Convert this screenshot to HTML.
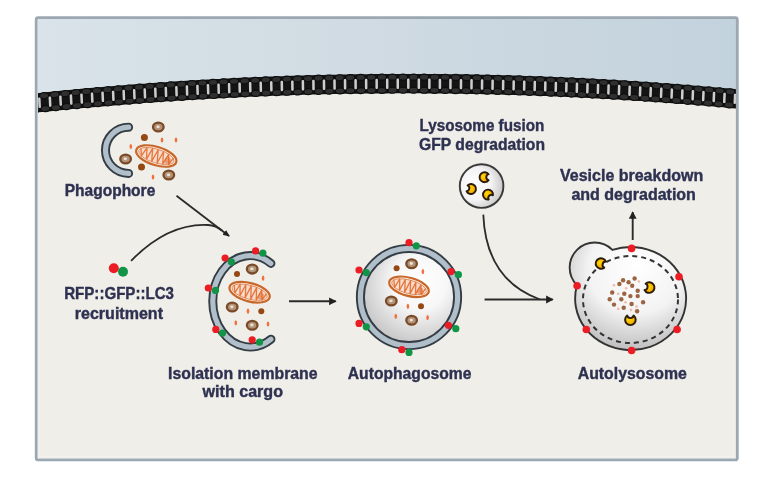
<!DOCTYPE html>
<html><head><meta charset="utf-8"><style>html,body{margin:0;padding:0;background:#fff;width:772px;height:494px;overflow:hidden}svg{display:block;filter:blur(0.4px)}</style></head>
<body><svg width="772" height="494" viewBox="0 0 772 494"><defs>
<linearGradient id="sky" x1="0" y1="0" x2="1" y2="0">
<stop offset="0" stop-color="#d9e3e9"/><stop offset="0.5" stop-color="#cfdae2"/><stop offset="1" stop-color="#c2d2dc"/></linearGradient>
<radialGradient id="vesA" cx="0.6" cy="0.38" r="0.7" fx="0.62" fy="0.33">
<stop offset="0" stop-color="#ffffff"/><stop offset="0.4" stop-color="#f7f7f7"/><stop offset="1" stop-color="#bcbcbc"/></radialGradient>
<radialGradient id="vesL" cx="0.35" cy="0.45" r="0.75">
<stop offset="0" stop-color="#ffffff"/><stop offset="0.5" stop-color="#f3f3f3"/><stop offset="1" stop-color="#b9b9b9"/></radialGradient>
<radialGradient id="vesT" cx="0.56" cy="0.3" r="0.82" fx="0.58" fy="0.2">
<stop offset="0" stop-color="#ffffff"/><stop offset="0.5" stop-color="#f3f3f3"/><stop offset="1" stop-color="#adadad"/></radialGradient>
<radialGradient id="pac" cx="0.4" cy="0.4" r="0.7">
<stop offset="0" stop-color="#ffd800"/><stop offset="0.6" stop-color="#f8b400"/><stop offset="1" stop-color="#d86a10"/></radialGradient>
<clipPath id="frameclip"><rect x="38" y="19" width="698" height="439"/></clipPath>
<marker id="ah" markerWidth="8" markerHeight="8" refX="6" refY="4" orient="auto" markerUnits="userSpaceOnUse">
<path d="M0,1 L7,4 L0,7 Z" fill="#222"/></marker>
<marker id="ah2" markerWidth="9" markerHeight="9" refX="6.5" refY="4.5" orient="auto" markerUnits="userSpaceOnUse">
<path d="M0,0.6 L7.6,4.5 L0,8.4 Z" fill="#222"/></marker>
</defs>
<rect x="0" y="0" width="772" height="494" fill="#ffffff"/>
<g clip-path="url(#frameclip)">
<rect x="35" y="16" width="704" height="445" fill="#efeee9"/>
<rect x="39.6" y="21" width="694.3" height="435.6" fill="none" stroke="#f7f6f0" stroke-width="1.2" opacity="0.5"/>
<polygon points="30,10 30,103.70 35,103.17 40,102.65 45,102.14 50,101.64 55,101.14 60,100.65 65,100.16 70,99.69 75,99.22 80,98.75 85,98.30 90,97.85 95,97.41 100,96.97 105,96.54 110,96.12 115,95.71 120,95.30 125,94.90 130,94.51 135,94.12 140,93.75 145,93.37 150,93.01 155,92.65 160,92.30 165,91.96 170,91.62 175,91.29 180,90.97 185,90.65 190,90.35 195,90.04 200,89.75 205,89.46 210,89.18 215,88.91 220,88.64 225,88.38 230,88.13 235,87.89 240,87.65 245,87.42 250,87.19 255,86.98 260,86.77 265,86.56 270,86.37 275,86.18 280,86.00 285,85.82 290,85.65 295,85.49 300,85.34 305,85.19 310,85.05 315,84.92 320,84.79 325,84.67 330,84.56 335,84.46 340,84.36 345,84.27 350,84.19 355,84.11 360,84.04 365,83.98 370,83.92 375,83.87 380,83.83 385,83.80 390,83.77 395,83.75 400,83.74 405,83.73 410,83.73 415,83.74 420,83.75 425,83.78 430,83.80 435,83.84 440,83.88 445,83.93 450,83.99 455,84.05 460,84.12 465,84.20 470,84.29 475,84.38 480,84.48 485,84.58 490,84.70 495,84.82 500,84.95 505,85.08 510,85.22 515,85.37 520,85.52 525,85.69 530,85.86 535,86.03 540,86.22 545,86.41 550,86.60 555,86.81 560,87.02 565,87.24 570,87.46 575,87.70 580,87.94 585,88.18 590,88.44 595,88.70 600,88.96 605,89.24 610,89.52 615,89.81 620,90.10 625,90.41 630,90.72 635,91.03 640,91.36 645,91.69 650,92.03 655,92.37 660,92.72 665,93.08 670,93.45 675,93.82 680,94.20 685,94.59 690,94.98 695,95.38 700,95.79 705,96.21 710,96.63 715,97.06 720,97.49 725,97.94 730,98.39 735,98.85 740,99.31 745,10" fill="url(#sky)"/>
<polygon points="30,93.90 33,93.58 36,93.27 39,92.96 42,92.65 45,92.34 48,92.04 51,91.74 54,91.44 57,91.14 60,90.85 63,90.56 66,90.27 69,89.98 72,89.70 75,89.42 78,89.14 81,88.86 84,88.59 87,88.32 90,88.05 93,87.78 96,87.52 99,87.26 102,87.00 105,86.74 108,86.49 111,86.24 114,85.99 117,85.75 120,85.50 123,85.26 126,85.02 129,84.79 132,84.56 135,84.32 138,84.10 141,83.87 144,83.65 147,83.43 150,83.21 153,82.99 156,82.78 159,82.57 162,82.36 165,82.16 168,81.96 171,81.76 174,81.56 177,81.36 180,81.17 183,80.98 186,80.79 189,80.61 192,80.42 195,80.24 198,80.07 201,79.89 204,79.72 207,79.55 210,79.38 213,79.22 216,79.06 219,78.90 222,78.74 225,78.58 228,78.43 231,78.28 234,78.14 237,77.99 240,77.85 243,77.71 246,77.57 249,77.44 252,77.31 255,77.18 258,77.05 261,76.92 264,76.80 267,76.68 270,76.57 273,76.45 276,76.34 279,76.23 282,76.13 285,76.02 288,75.92 291,75.82 294,75.72 297,75.63 300,75.54 303,75.45 306,75.36 309,75.28 312,75.20 315,75.12 318,75.04 321,74.97 324,74.90 327,74.83 330,74.76 333,74.70 336,74.64 339,74.58 342,74.52 345,74.47 348,74.42 351,74.37 354,74.32 357,74.28 360,74.24 363,74.20 366,74.17 369,74.13 372,74.10 375,74.07 378,74.05 381,74.02 384,74.00 387,73.99 390,73.97 393,73.96 396,73.95 399,73.94 402,73.93 405,73.93 408,73.93 411,73.93 414,73.94 417,73.94 420,73.95 423,73.97 426,73.98 429,74.00 432,74.02 435,74.04 438,74.07 441,74.09 444,74.12 447,74.15 450,74.19 453,74.23 456,74.27 459,74.31 462,74.36 465,74.40 468,74.45 471,74.51 474,74.56 477,74.62 480,74.68 483,74.74 486,74.81 489,74.87 492,74.95 495,75.02 498,75.09 501,75.17 504,75.25 507,75.34 510,75.42 513,75.51 516,75.60 519,75.69 522,75.79 525,75.89 528,75.99 531,76.09 534,76.20 537,76.30 540,76.42 543,76.53 546,76.64 549,76.76 552,76.88 555,77.01 558,77.13 561,77.26 564,77.39 567,77.53 570,77.66 573,77.80 576,77.94 579,78.09 582,78.23 585,78.38 588,78.53 591,78.69 594,78.84 597,79.00 600,79.16 603,79.33 606,79.49 609,79.66 612,79.83 615,80.01 618,80.19 621,80.36 624,80.55 627,80.73 630,80.92 633,81.11 636,81.30 639,81.49 642,81.69 645,81.89 648,82.09 651,82.29 654,82.50 657,82.71 660,82.92 663,83.14 666,83.35 669,83.57 672,83.80 675,84.02 678,84.25 681,84.48 684,84.71 687,84.95 690,85.18 693,85.42 696,85.66 699,85.91 702,86.16 705,86.41 708,86.66 711,86.91 714,87.17 717,87.43 720,87.69 723,87.96 726,88.23 729,88.50 732,88.77 735,89.05 738,89.32 741,89.60 744,89.89 744,109.29 741,109.00 738,108.72 735,108.45 732,108.17 729,107.90 726,107.63 723,107.36 720,107.09 717,106.83 714,106.57 711,106.31 708,106.06 705,105.81 702,105.56 699,105.31 696,105.06 693,104.82 690,104.58 687,104.35 684,104.11 681,103.88 678,103.65 675,103.42 672,103.20 669,102.97 666,102.75 663,102.54 660,102.32 657,102.11 654,101.90 651,101.69 648,101.49 645,101.29 642,101.09 639,100.89 636,100.70 633,100.51 630,100.32 627,100.13 624,99.95 621,99.76 618,99.59 615,99.41 612,99.23 609,99.06 606,98.89 603,98.73 600,98.56 597,98.40 594,98.24 591,98.09 588,97.93 585,97.78 582,97.63 579,97.49 576,97.34 573,97.20 570,97.06 567,96.93 564,96.79 561,96.66 558,96.53 555,96.41 552,96.28 549,96.16 546,96.04 543,95.93 540,95.82 537,95.70 534,95.60 531,95.49 528,95.39 525,95.29 522,95.19 519,95.09 516,95.00 513,94.91 510,94.82 507,94.73 504,94.65 501,94.57 498,94.49 495,94.42 492,94.35 489,94.27 486,94.21 483,94.14 480,94.08 477,94.02 474,93.96 471,93.91 468,93.85 465,93.80 462,93.76 459,93.71 456,93.67 453,93.63 450,93.59 447,93.55 444,93.52 441,93.49 438,93.47 435,93.44 432,93.42 429,93.40 426,93.38 423,93.37 420,93.35 417,93.34 414,93.34 411,93.33 408,93.33 405,93.33 402,93.33 399,93.34 396,93.35 393,93.36 390,93.37 387,93.39 384,93.40 381,93.42 378,93.45 375,93.47 372,93.50 369,93.53 366,93.57 363,93.60 360,93.64 357,93.68 354,93.72 351,93.77 348,93.82 345,93.87 342,93.92 339,93.98 336,94.04 333,94.10 330,94.16 327,94.23 324,94.30 321,94.37 318,94.44 315,94.52 312,94.60 309,94.68 306,94.76 303,94.85 300,94.94 297,95.03 294,95.12 291,95.22 288,95.32 285,95.42 282,95.53 279,95.63 276,95.74 273,95.85 270,95.97 267,96.08 264,96.20 261,96.32 258,96.45 255,96.58 252,96.71 249,96.84 246,96.97 243,97.11 240,97.25 237,97.39 234,97.54 231,97.68 228,97.83 225,97.98 222,98.14 219,98.30 216,98.46 213,98.62 210,98.78 207,98.95 204,99.12 201,99.29 198,99.47 195,99.64 192,99.82 189,100.01 186,100.19 183,100.38 180,100.57 177,100.76 174,100.96 171,101.16 168,101.36 165,101.56 162,101.76 159,101.97 156,102.18 153,102.39 150,102.61 147,102.83 144,103.05 141,103.27 138,103.50 135,103.72 132,103.96 129,104.19 126,104.42 123,104.66 120,104.90 117,105.15 114,105.39 111,105.64 108,105.89 105,106.14 102,106.40 99,106.66 96,106.92 93,107.18 90,107.45 87,107.72 84,107.99 81,108.26 78,108.54 75,108.82 72,109.10 69,109.38 66,109.67 63,109.96 60,110.25 57,110.54 54,110.84 51,111.14 48,111.44 45,111.74 42,112.05 39,112.36 36,112.67 33,112.98 30,113.30" fill="#141414"/>
<g transform="translate(23.70,104.37) rotate(-6.15)"><ellipse cx="0" cy="-6.6" rx="4.6" ry="3" fill="#2f2f2f" stroke="#0d0d0d" stroke-width="1.2"/><ellipse cx="0" cy="6.5" rx="4.6" ry="3" fill="#2f2f2f" stroke="#0d0d0d" stroke-width="1.2"/></g>
<g transform="translate(18.43,104.94) rotate(-3.12)"><rect x="-1.25" y="-5.2" width="2.5" height="10.4" rx="1" fill="#cdcdcd"/></g>
<g transform="translate(34.23,103.25) rotate(-5.98)"><ellipse cx="0" cy="-6.6" rx="4.6" ry="3" fill="#2f2f2f" stroke="#0d0d0d" stroke-width="1.2"/><ellipse cx="0" cy="6.5" rx="4.6" ry="3" fill="#2f2f2f" stroke="#0d0d0d" stroke-width="1.2"/></g>
<g transform="translate(28.96,103.81) rotate(-3.03)"><rect x="-1.25" y="-5.2" width="2.5" height="10.4" rx="1" fill="#cdcdcd"/></g>
<g transform="translate(44.77,102.17) rotate(-5.81)"><ellipse cx="0" cy="-6.6" rx="4.6" ry="3" fill="#2f2f2f" stroke="#0d0d0d" stroke-width="1.2"/><ellipse cx="0" cy="6.5" rx="4.6" ry="3" fill="#2f2f2f" stroke="#0d0d0d" stroke-width="1.2"/></g>
<g transform="translate(39.50,102.71) rotate(-2.95)"><rect x="-1.25" y="-5.2" width="2.5" height="10.4" rx="1" fill="#cdcdcd"/></g>
<g transform="translate(55.31,101.11) rotate(-5.64)"><ellipse cx="0" cy="-6.6" rx="4.6" ry="3" fill="#2f2f2f" stroke="#0d0d0d" stroke-width="1.2"/><ellipse cx="0" cy="6.5" rx="4.6" ry="3" fill="#2f2f2f" stroke="#0d0d0d" stroke-width="1.2"/></g>
<g transform="translate(50.04,101.63) rotate(-2.86)"><rect x="-1.25" y="-5.2" width="2.5" height="10.4" rx="1" fill="#cdcdcd"/></g>
<g transform="translate(65.84,100.08) rotate(-5.48)"><ellipse cx="0" cy="-6.6" rx="4.6" ry="3" fill="#2f2f2f" stroke="#0d0d0d" stroke-width="1.2"/><ellipse cx="0" cy="6.5" rx="4.6" ry="3" fill="#2f2f2f" stroke="#0d0d0d" stroke-width="1.2"/></g>
<g transform="translate(60.57,100.59) rotate(-2.78)"><rect x="-1.25" y="-5.2" width="2.5" height="10.4" rx="1" fill="#cdcdcd"/></g>
<g transform="translate(76.38,99.09) rotate(-5.31)"><ellipse cx="0" cy="-6.6" rx="4.6" ry="3" fill="#2f2f2f" stroke="#0d0d0d" stroke-width="1.2"/><ellipse cx="0" cy="6.5" rx="4.6" ry="3" fill="#2f2f2f" stroke="#0d0d0d" stroke-width="1.2"/></g>
<g transform="translate(71.11,99.58) rotate(-2.70)"><rect x="-1.25" y="-5.2" width="2.5" height="10.4" rx="1" fill="#cdcdcd"/></g>
<g transform="translate(86.92,98.12) rotate(-5.14)"><ellipse cx="0" cy="-6.6" rx="4.6" ry="3" fill="#2f2f2f" stroke="#0d0d0d" stroke-width="1.2"/><ellipse cx="0" cy="6.5" rx="4.6" ry="3" fill="#2f2f2f" stroke="#0d0d0d" stroke-width="1.2"/></g>
<g transform="translate(81.65,98.60) rotate(-2.61)"><rect x="-1.25" y="-5.2" width="2.5" height="10.4" rx="1" fill="#cdcdcd"/></g>
<g transform="translate(97.46,97.19) rotate(-4.97)"><ellipse cx="0" cy="-6.6" rx="4.6" ry="3" fill="#2f2f2f" stroke="#0d0d0d" stroke-width="1.2"/><ellipse cx="0" cy="6.5" rx="4.6" ry="3" fill="#2f2f2f" stroke="#0d0d0d" stroke-width="1.2"/></g>
<g transform="translate(92.19,97.65) rotate(-2.53)"><rect x="-1.25" y="-5.2" width="2.5" height="10.4" rx="1" fill="#cdcdcd"/></g>
<g transform="translate(107.99,96.29) rotate(-4.80)"><ellipse cx="0" cy="-6.6" rx="4.6" ry="3" fill="#2f2f2f" stroke="#0d0d0d" stroke-width="1.2"/><ellipse cx="0" cy="6.5" rx="4.6" ry="3" fill="#2f2f2f" stroke="#0d0d0d" stroke-width="1.2"/></g>
<g transform="translate(102.72,96.74) rotate(-2.44)"><rect x="-1.25" y="-5.2" width="2.5" height="10.4" rx="1" fill="#cdcdcd"/></g>
<g transform="translate(118.53,95.42) rotate(-4.63)"><ellipse cx="0" cy="-6.6" rx="4.6" ry="3" fill="#2f2f2f" stroke="#0d0d0d" stroke-width="1.2"/><ellipse cx="0" cy="6.5" rx="4.6" ry="3" fill="#2f2f2f" stroke="#0d0d0d" stroke-width="1.2"/></g>
<g transform="translate(113.26,95.85) rotate(-2.36)"><rect x="-1.25" y="-5.2" width="2.5" height="10.4" rx="1" fill="#cdcdcd"/></g>
<g transform="translate(129.07,94.58) rotate(-4.47)"><ellipse cx="0" cy="-6.6" rx="4.6" ry="3" fill="#2f2f2f" stroke="#0d0d0d" stroke-width="1.2"/><ellipse cx="0" cy="6.5" rx="4.6" ry="3" fill="#2f2f2f" stroke="#0d0d0d" stroke-width="1.2"/></g>
<g transform="translate(123.80,95.00) rotate(-2.28)"><rect x="-1.25" y="-5.2" width="2.5" height="10.4" rx="1" fill="#cdcdcd"/></g>
<g transform="translate(139.60,93.78) rotate(-4.30)"><ellipse cx="0" cy="-6.6" rx="4.6" ry="3" fill="#2f2f2f" stroke="#0d0d0d" stroke-width="1.2"/><ellipse cx="0" cy="6.5" rx="4.6" ry="3" fill="#2f2f2f" stroke="#0d0d0d" stroke-width="1.2"/></g>
<g transform="translate(134.33,94.18) rotate(-2.19)"><rect x="-1.25" y="-5.2" width="2.5" height="10.4" rx="1" fill="#cdcdcd"/></g>
<g transform="translate(150.14,93.00) rotate(-4.13)"><ellipse cx="0" cy="-6.6" rx="4.6" ry="3" fill="#2f2f2f" stroke="#0d0d0d" stroke-width="1.2"/><ellipse cx="0" cy="6.5" rx="4.6" ry="3" fill="#2f2f2f" stroke="#0d0d0d" stroke-width="1.2"/></g>
<g transform="translate(144.87,93.38) rotate(-2.11)"><rect x="-1.25" y="-5.2" width="2.5" height="10.4" rx="1" fill="#cdcdcd"/></g>
<g transform="translate(160.68,92.25) rotate(-3.96)"><ellipse cx="0" cy="-6.6" rx="4.6" ry="3" fill="#2f2f2f" stroke="#0d0d0d" stroke-width="1.2"/><ellipse cx="0" cy="6.5" rx="4.6" ry="3" fill="#2f2f2f" stroke="#0d0d0d" stroke-width="1.2"/></g>
<g transform="translate(155.41,92.62) rotate(-2.02)"><rect x="-1.25" y="-5.2" width="2.5" height="10.4" rx="1" fill="#cdcdcd"/></g>
<g transform="translate(171.21,91.54) rotate(-3.79)"><ellipse cx="0" cy="-6.6" rx="4.6" ry="3" fill="#2f2f2f" stroke="#0d0d0d" stroke-width="1.2"/><ellipse cx="0" cy="6.5" rx="4.6" ry="3" fill="#2f2f2f" stroke="#0d0d0d" stroke-width="1.2"/></g>
<g transform="translate(165.94,91.89) rotate(-1.94)"><rect x="-1.25" y="-5.2" width="2.5" height="10.4" rx="1" fill="#cdcdcd"/></g>
<g transform="translate(181.75,90.86) rotate(-3.62)"><ellipse cx="0" cy="-6.6" rx="4.6" ry="3" fill="#2f2f2f" stroke="#0d0d0d" stroke-width="1.2"/><ellipse cx="0" cy="6.5" rx="4.6" ry="3" fill="#2f2f2f" stroke="#0d0d0d" stroke-width="1.2"/></g>
<g transform="translate(176.48,91.20) rotate(-1.85)"><rect x="-1.25" y="-5.2" width="2.5" height="10.4" rx="1" fill="#cdcdcd"/></g>
<g transform="translate(192.29,90.21) rotate(-3.45)"><ellipse cx="0" cy="-6.6" rx="4.6" ry="3" fill="#2f2f2f" stroke="#0d0d0d" stroke-width="1.2"/><ellipse cx="0" cy="6.5" rx="4.6" ry="3" fill="#2f2f2f" stroke="#0d0d0d" stroke-width="1.2"/></g>
<g transform="translate(187.02,90.53) rotate(-1.77)"><rect x="-1.25" y="-5.2" width="2.5" height="10.4" rx="1" fill="#cdcdcd"/></g>
<g transform="translate(202.83,89.59) rotate(-3.28)"><ellipse cx="0" cy="-6.6" rx="4.6" ry="3" fill="#2f2f2f" stroke="#0d0d0d" stroke-width="1.2"/><ellipse cx="0" cy="6.5" rx="4.6" ry="3" fill="#2f2f2f" stroke="#0d0d0d" stroke-width="1.2"/></g>
<g transform="translate(197.56,89.89) rotate(-1.68)"><rect x="-1.25" y="-5.2" width="2.5" height="10.4" rx="1" fill="#cdcdcd"/></g>
<g transform="translate(213.36,89.00) rotate(-3.11)"><ellipse cx="0" cy="-6.6" rx="4.6" ry="3" fill="#2f2f2f" stroke="#0d0d0d" stroke-width="1.2"/><ellipse cx="0" cy="6.5" rx="4.6" ry="3" fill="#2f2f2f" stroke="#0d0d0d" stroke-width="1.2"/></g>
<g transform="translate(208.09,89.29) rotate(-1.60)"><rect x="-1.25" y="-5.2" width="2.5" height="10.4" rx="1" fill="#cdcdcd"/></g>
<g transform="translate(223.90,88.44) rotate(-2.95)"><ellipse cx="0" cy="-6.6" rx="4.6" ry="3" fill="#2f2f2f" stroke="#0d0d0d" stroke-width="1.2"/><ellipse cx="0" cy="6.5" rx="4.6" ry="3" fill="#2f2f2f" stroke="#0d0d0d" stroke-width="1.2"/></g>
<g transform="translate(218.63,88.72) rotate(-1.51)"><rect x="-1.25" y="-5.2" width="2.5" height="10.4" rx="1" fill="#cdcdcd"/></g>
<g transform="translate(234.44,87.91) rotate(-2.78)"><ellipse cx="0" cy="-6.6" rx="4.6" ry="3" fill="#2f2f2f" stroke="#0d0d0d" stroke-width="1.2"/><ellipse cx="0" cy="6.5" rx="4.6" ry="3" fill="#2f2f2f" stroke="#0d0d0d" stroke-width="1.2"/></g>
<g transform="translate(229.17,88.17) rotate(-1.43)"><rect x="-1.25" y="-5.2" width="2.5" height="10.4" rx="1" fill="#cdcdcd"/></g>
<g transform="translate(244.97,87.42) rotate(-2.61)"><ellipse cx="0" cy="-6.6" rx="4.6" ry="3" fill="#2f2f2f" stroke="#0d0d0d" stroke-width="1.2"/><ellipse cx="0" cy="6.5" rx="4.6" ry="3" fill="#2f2f2f" stroke="#0d0d0d" stroke-width="1.2"/></g>
<g transform="translate(239.70,87.66) rotate(-1.35)"><rect x="-1.25" y="-5.2" width="2.5" height="10.4" rx="1" fill="#cdcdcd"/></g>
<g transform="translate(255.51,86.95) rotate(-2.44)"><ellipse cx="0" cy="-6.6" rx="4.6" ry="3" fill="#2f2f2f" stroke="#0d0d0d" stroke-width="1.2"/><ellipse cx="0" cy="6.5" rx="4.6" ry="3" fill="#2f2f2f" stroke="#0d0d0d" stroke-width="1.2"/></g>
<g transform="translate(250.24,87.18) rotate(-1.26)"><rect x="-1.25" y="-5.2" width="2.5" height="10.4" rx="1" fill="#cdcdcd"/></g>
<g transform="translate(266.05,86.52) rotate(-2.27)"><ellipse cx="0" cy="-6.6" rx="4.6" ry="3" fill="#2f2f2f" stroke="#0d0d0d" stroke-width="1.2"/><ellipse cx="0" cy="6.5" rx="4.6" ry="3" fill="#2f2f2f" stroke="#0d0d0d" stroke-width="1.2"/></g>
<g transform="translate(260.78,86.73) rotate(-1.18)"><rect x="-1.25" y="-5.2" width="2.5" height="10.4" rx="1" fill="#cdcdcd"/></g>
<g transform="translate(276.58,86.12) rotate(-2.10)"><ellipse cx="0" cy="-6.6" rx="4.6" ry="3" fill="#2f2f2f" stroke="#0d0d0d" stroke-width="1.2"/><ellipse cx="0" cy="6.5" rx="4.6" ry="3" fill="#2f2f2f" stroke="#0d0d0d" stroke-width="1.2"/></g>
<g transform="translate(271.31,86.32) rotate(-1.09)"><rect x="-1.25" y="-5.2" width="2.5" height="10.4" rx="1" fill="#cdcdcd"/></g>
<g transform="translate(287.12,85.75) rotate(-1.93)"><ellipse cx="0" cy="-6.6" rx="4.6" ry="3" fill="#2f2f2f" stroke="#0d0d0d" stroke-width="1.2"/><ellipse cx="0" cy="6.5" rx="4.6" ry="3" fill="#2f2f2f" stroke="#0d0d0d" stroke-width="1.2"/></g>
<g transform="translate(281.85,85.93) rotate(-1.01)"><rect x="-1.25" y="-5.2" width="2.5" height="10.4" rx="1" fill="#cdcdcd"/></g>
<g transform="translate(297.66,85.41) rotate(-1.76)"><ellipse cx="0" cy="-6.6" rx="4.6" ry="3" fill="#2f2f2f" stroke="#0d0d0d" stroke-width="1.2"/><ellipse cx="0" cy="6.5" rx="4.6" ry="3" fill="#2f2f2f" stroke="#0d0d0d" stroke-width="1.2"/></g>
<g transform="translate(292.39,85.58) rotate(-0.92)"><rect x="-1.25" y="-5.2" width="2.5" height="10.4" rx="1" fill="#cdcdcd"/></g>
<g transform="translate(308.19,85.10) rotate(-1.59)"><ellipse cx="0" cy="-6.6" rx="4.6" ry="3" fill="#2f2f2f" stroke="#0d0d0d" stroke-width="1.2"/><ellipse cx="0" cy="6.5" rx="4.6" ry="3" fill="#2f2f2f" stroke="#0d0d0d" stroke-width="1.2"/></g>
<g transform="translate(302.93,85.25) rotate(-0.84)"><rect x="-1.25" y="-5.2" width="2.5" height="10.4" rx="1" fill="#cdcdcd"/></g>
<g transform="translate(318.73,84.82) rotate(-1.42)"><ellipse cx="0" cy="-6.6" rx="4.6" ry="3" fill="#2f2f2f" stroke="#0d0d0d" stroke-width="1.2"/><ellipse cx="0" cy="6.5" rx="4.6" ry="3" fill="#2f2f2f" stroke="#0d0d0d" stroke-width="1.2"/></g>
<g transform="translate(313.46,84.96) rotate(-0.75)"><rect x="-1.25" y="-5.2" width="2.5" height="10.4" rx="1" fill="#cdcdcd"/></g>
<g transform="translate(329.27,84.58) rotate(-1.25)"><ellipse cx="0" cy="-6.6" rx="4.6" ry="3" fill="#2f2f2f" stroke="#0d0d0d" stroke-width="1.2"/><ellipse cx="0" cy="6.5" rx="4.6" ry="3" fill="#2f2f2f" stroke="#0d0d0d" stroke-width="1.2"/></g>
<g transform="translate(324.00,84.70) rotate(-0.67)"><rect x="-1.25" y="-5.2" width="2.5" height="10.4" rx="1" fill="#cdcdcd"/></g>
<g transform="translate(339.81,84.36) rotate(-1.08)"><ellipse cx="0" cy="-6.6" rx="4.6" ry="3" fill="#2f2f2f" stroke="#0d0d0d" stroke-width="1.2"/><ellipse cx="0" cy="6.5" rx="4.6" ry="3" fill="#2f2f2f" stroke="#0d0d0d" stroke-width="1.2"/></g>
<g transform="translate(334.54,84.47) rotate(-0.58)"><rect x="-1.25" y="-5.2" width="2.5" height="10.4" rx="1" fill="#cdcdcd"/></g>
<g transform="translate(350.34,84.18) rotate(-0.91)"><ellipse cx="0" cy="-6.6" rx="4.6" ry="3" fill="#2f2f2f" stroke="#0d0d0d" stroke-width="1.2"/><ellipse cx="0" cy="6.5" rx="4.6" ry="3" fill="#2f2f2f" stroke="#0d0d0d" stroke-width="1.2"/></g>
<g transform="translate(345.07,84.27) rotate(-0.50)"><rect x="-1.25" y="-5.2" width="2.5" height="10.4" rx="1" fill="#cdcdcd"/></g>
<g transform="translate(360.88,84.03) rotate(-0.74)"><ellipse cx="0" cy="-6.6" rx="4.6" ry="3" fill="#2f2f2f" stroke="#0d0d0d" stroke-width="1.2"/><ellipse cx="0" cy="6.5" rx="4.6" ry="3" fill="#2f2f2f" stroke="#0d0d0d" stroke-width="1.2"/></g>
<g transform="translate(355.61,84.10) rotate(-0.41)"><rect x="-1.25" y="-5.2" width="2.5" height="10.4" rx="1" fill="#cdcdcd"/></g>
<g transform="translate(371.42,83.91) rotate(-0.57)"><ellipse cx="0" cy="-6.6" rx="4.6" ry="3" fill="#2f2f2f" stroke="#0d0d0d" stroke-width="1.2"/><ellipse cx="0" cy="6.5" rx="4.6" ry="3" fill="#2f2f2f" stroke="#0d0d0d" stroke-width="1.2"/></g>
<g transform="translate(366.15,83.96) rotate(-0.33)"><rect x="-1.25" y="-5.2" width="2.5" height="10.4" rx="1" fill="#cdcdcd"/></g>
<g transform="translate(381.95,83.82) rotate(-0.40)"><ellipse cx="0" cy="-6.6" rx="4.6" ry="3" fill="#2f2f2f" stroke="#0d0d0d" stroke-width="1.2"/><ellipse cx="0" cy="6.5" rx="4.6" ry="3" fill="#2f2f2f" stroke="#0d0d0d" stroke-width="1.2"/></g>
<g transform="translate(376.68,83.86) rotate(-0.24)"><rect x="-1.25" y="-5.2" width="2.5" height="10.4" rx="1" fill="#cdcdcd"/></g>
<g transform="translate(392.49,83.76) rotate(-0.23)"><ellipse cx="0" cy="-6.6" rx="4.6" ry="3" fill="#2f2f2f" stroke="#0d0d0d" stroke-width="1.2"/><ellipse cx="0" cy="6.5" rx="4.6" ry="3" fill="#2f2f2f" stroke="#0d0d0d" stroke-width="1.2"/></g>
<g transform="translate(387.22,83.78) rotate(-0.16)"><rect x="-1.25" y="-5.2" width="2.5" height="10.4" rx="1" fill="#cdcdcd"/></g>
<g transform="translate(403.03,83.73) rotate(-0.06)"><ellipse cx="0" cy="-6.6" rx="4.6" ry="3" fill="#2f2f2f" stroke="#0d0d0d" stroke-width="1.2"/><ellipse cx="0" cy="6.5" rx="4.6" ry="3" fill="#2f2f2f" stroke="#0d0d0d" stroke-width="1.2"/></g>
<g transform="translate(397.76,83.74) rotate(-0.07)"><rect x="-1.25" y="-5.2" width="2.5" height="10.4" rx="1" fill="#cdcdcd"/></g>
<g transform="translate(413.56,83.74) rotate(0.11)"><ellipse cx="0" cy="-6.6" rx="4.6" ry="3" fill="#2f2f2f" stroke="#0d0d0d" stroke-width="1.2"/><ellipse cx="0" cy="6.5" rx="4.6" ry="3" fill="#2f2f2f" stroke="#0d0d0d" stroke-width="1.2"/></g>
<g transform="translate(408.29,83.73) rotate(0.01)"><rect x="-1.25" y="-5.2" width="2.5" height="10.4" rx="1" fill="#cdcdcd"/></g>
<g transform="translate(424.10,83.77) rotate(0.28)"><ellipse cx="0" cy="-6.6" rx="4.6" ry="3" fill="#2f2f2f" stroke="#0d0d0d" stroke-width="1.2"/><ellipse cx="0" cy="6.5" rx="4.6" ry="3" fill="#2f2f2f" stroke="#0d0d0d" stroke-width="1.2"/></g>
<g transform="translate(418.83,83.75) rotate(0.10)"><rect x="-1.25" y="-5.2" width="2.5" height="10.4" rx="1" fill="#cdcdcd"/></g>
<g transform="translate(434.64,83.84) rotate(0.44)"><ellipse cx="0" cy="-6.6" rx="4.6" ry="3" fill="#2f2f2f" stroke="#0d0d0d" stroke-width="1.2"/><ellipse cx="0" cy="6.5" rx="4.6" ry="3" fill="#2f2f2f" stroke="#0d0d0d" stroke-width="1.2"/></g>
<g transform="translate(429.37,83.80) rotate(0.18)"><rect x="-1.25" y="-5.2" width="2.5" height="10.4" rx="1" fill="#cdcdcd"/></g>
<g transform="translate(445.18,83.93) rotate(0.61)"><ellipse cx="0" cy="-6.6" rx="4.6" ry="3" fill="#2f2f2f" stroke="#0d0d0d" stroke-width="1.2"/><ellipse cx="0" cy="6.5" rx="4.6" ry="3" fill="#2f2f2f" stroke="#0d0d0d" stroke-width="1.2"/></g>
<g transform="translate(439.91,83.88) rotate(0.26)"><rect x="-1.25" y="-5.2" width="2.5" height="10.4" rx="1" fill="#cdcdcd"/></g>
<g transform="translate(455.71,84.06) rotate(0.78)"><ellipse cx="0" cy="-6.6" rx="4.6" ry="3" fill="#2f2f2f" stroke="#0d0d0d" stroke-width="1.2"/><ellipse cx="0" cy="6.5" rx="4.6" ry="3" fill="#2f2f2f" stroke="#0d0d0d" stroke-width="1.2"/></g>
<g transform="translate(450.44,84.00) rotate(0.35)"><rect x="-1.25" y="-5.2" width="2.5" height="10.4" rx="1" fill="#cdcdcd"/></g>
<g transform="translate(466.25,84.22) rotate(0.95)"><ellipse cx="0" cy="-6.6" rx="4.6" ry="3" fill="#2f2f2f" stroke="#0d0d0d" stroke-width="1.2"/><ellipse cx="0" cy="6.5" rx="4.6" ry="3" fill="#2f2f2f" stroke="#0d0d0d" stroke-width="1.2"/></g>
<g transform="translate(460.98,84.14) rotate(0.43)"><rect x="-1.25" y="-5.2" width="2.5" height="10.4" rx="1" fill="#cdcdcd"/></g>
<g transform="translate(476.79,84.41) rotate(1.12)"><ellipse cx="0" cy="-6.6" rx="4.6" ry="3" fill="#2f2f2f" stroke="#0d0d0d" stroke-width="1.2"/><ellipse cx="0" cy="6.5" rx="4.6" ry="3" fill="#2f2f2f" stroke="#0d0d0d" stroke-width="1.2"/></g>
<g transform="translate(471.52,84.31) rotate(0.52)"><rect x="-1.25" y="-5.2" width="2.5" height="10.4" rx="1" fill="#cdcdcd"/></g>
<g transform="translate(487.32,84.64) rotate(1.29)"><ellipse cx="0" cy="-6.6" rx="4.6" ry="3" fill="#2f2f2f" stroke="#0d0d0d" stroke-width="1.2"/><ellipse cx="0" cy="6.5" rx="4.6" ry="3" fill="#2f2f2f" stroke="#0d0d0d" stroke-width="1.2"/></g>
<g transform="translate(482.05,84.52) rotate(0.60)"><rect x="-1.25" y="-5.2" width="2.5" height="10.4" rx="1" fill="#cdcdcd"/></g>
<g transform="translate(497.86,84.89) rotate(1.46)"><ellipse cx="0" cy="-6.6" rx="4.6" ry="3" fill="#2f2f2f" stroke="#0d0d0d" stroke-width="1.2"/><ellipse cx="0" cy="6.5" rx="4.6" ry="3" fill="#2f2f2f" stroke="#0d0d0d" stroke-width="1.2"/></g>
<g transform="translate(492.59,84.76) rotate(0.69)"><rect x="-1.25" y="-5.2" width="2.5" height="10.4" rx="1" fill="#cdcdcd"/></g>
<g transform="translate(508.40,85.17) rotate(1.63)"><ellipse cx="0" cy="-6.6" rx="4.6" ry="3" fill="#2f2f2f" stroke="#0d0d0d" stroke-width="1.2"/><ellipse cx="0" cy="6.5" rx="4.6" ry="3" fill="#2f2f2f" stroke="#0d0d0d" stroke-width="1.2"/></g>
<g transform="translate(503.13,85.03) rotate(0.77)"><rect x="-1.25" y="-5.2" width="2.5" height="10.4" rx="1" fill="#cdcdcd"/></g>
<g transform="translate(518.93,85.49) rotate(1.80)"><ellipse cx="0" cy="-6.6" rx="4.6" ry="3" fill="#2f2f2f" stroke="#0d0d0d" stroke-width="1.2"/><ellipse cx="0" cy="6.5" rx="4.6" ry="3" fill="#2f2f2f" stroke="#0d0d0d" stroke-width="1.2"/></g>
<g transform="translate(513.66,85.33) rotate(0.86)"><rect x="-1.25" y="-5.2" width="2.5" height="10.4" rx="1" fill="#cdcdcd"/></g>
<g transform="translate(529.47,85.84) rotate(1.97)"><ellipse cx="0" cy="-6.6" rx="4.6" ry="3" fill="#2f2f2f" stroke="#0d0d0d" stroke-width="1.2"/><ellipse cx="0" cy="6.5" rx="4.6" ry="3" fill="#2f2f2f" stroke="#0d0d0d" stroke-width="1.2"/></g>
<g transform="translate(524.20,85.66) rotate(0.94)"><rect x="-1.25" y="-5.2" width="2.5" height="10.4" rx="1" fill="#cdcdcd"/></g>
<g transform="translate(540.01,86.22) rotate(2.14)"><ellipse cx="0" cy="-6.6" rx="4.6" ry="3" fill="#2f2f2f" stroke="#0d0d0d" stroke-width="1.2"/><ellipse cx="0" cy="6.5" rx="4.6" ry="3" fill="#2f2f2f" stroke="#0d0d0d" stroke-width="1.2"/></g>
<g transform="translate(534.74,86.02) rotate(1.03)"><rect x="-1.25" y="-5.2" width="2.5" height="10.4" rx="1" fill="#cdcdcd"/></g>
<g transform="translate(550.55,86.63) rotate(2.31)"><ellipse cx="0" cy="-6.6" rx="4.6" ry="3" fill="#2f2f2f" stroke="#0d0d0d" stroke-width="1.2"/><ellipse cx="0" cy="6.5" rx="4.6" ry="3" fill="#2f2f2f" stroke="#0d0d0d" stroke-width="1.2"/></g>
<g transform="translate(545.28,86.42) rotate(1.11)"><rect x="-1.25" y="-5.2" width="2.5" height="10.4" rx="1" fill="#cdcdcd"/></g>
<g transform="translate(561.08,87.07) rotate(2.48)"><ellipse cx="0" cy="-6.6" rx="4.6" ry="3" fill="#2f2f2f" stroke="#0d0d0d" stroke-width="1.2"/><ellipse cx="0" cy="6.5" rx="4.6" ry="3" fill="#2f2f2f" stroke="#0d0d0d" stroke-width="1.2"/></g>
<g transform="translate(555.81,86.84) rotate(1.20)"><rect x="-1.25" y="-5.2" width="2.5" height="10.4" rx="1" fill="#cdcdcd"/></g>
<g transform="translate(571.62,87.54) rotate(2.65)"><ellipse cx="0" cy="-6.6" rx="4.6" ry="3" fill="#2f2f2f" stroke="#0d0d0d" stroke-width="1.2"/><ellipse cx="0" cy="6.5" rx="4.6" ry="3" fill="#2f2f2f" stroke="#0d0d0d" stroke-width="1.2"/></g>
<g transform="translate(566.35,87.30) rotate(1.28)"><rect x="-1.25" y="-5.2" width="2.5" height="10.4" rx="1" fill="#cdcdcd"/></g>
<g transform="translate(582.16,88.04) rotate(2.82)"><ellipse cx="0" cy="-6.6" rx="4.6" ry="3" fill="#2f2f2f" stroke="#0d0d0d" stroke-width="1.2"/><ellipse cx="0" cy="6.5" rx="4.6" ry="3" fill="#2f2f2f" stroke="#0d0d0d" stroke-width="1.2"/></g>
<g transform="translate(576.89,87.79) rotate(1.37)"><rect x="-1.25" y="-5.2" width="2.5" height="10.4" rx="1" fill="#cdcdcd"/></g>
<g transform="translate(592.69,88.57) rotate(2.99)"><ellipse cx="0" cy="-6.6" rx="4.6" ry="3" fill="#2f2f2f" stroke="#0d0d0d" stroke-width="1.2"/><ellipse cx="0" cy="6.5" rx="4.6" ry="3" fill="#2f2f2f" stroke="#0d0d0d" stroke-width="1.2"/></g>
<g transform="translate(587.42,88.30) rotate(1.45)"><rect x="-1.25" y="-5.2" width="2.5" height="10.4" rx="1" fill="#cdcdcd"/></g>
<g transform="translate(603.23,89.14) rotate(3.16)"><ellipse cx="0" cy="-6.6" rx="4.6" ry="3" fill="#2f2f2f" stroke="#0d0d0d" stroke-width="1.2"/><ellipse cx="0" cy="6.5" rx="4.6" ry="3" fill="#2f2f2f" stroke="#0d0d0d" stroke-width="1.2"/></g>
<g transform="translate(597.96,88.85) rotate(1.54)"><rect x="-1.25" y="-5.2" width="2.5" height="10.4" rx="1" fill="#cdcdcd"/></g>
<g transform="translate(613.77,89.74) rotate(3.33)"><ellipse cx="0" cy="-6.6" rx="4.6" ry="3" fill="#2f2f2f" stroke="#0d0d0d" stroke-width="1.2"/><ellipse cx="0" cy="6.5" rx="4.6" ry="3" fill="#2f2f2f" stroke="#0d0d0d" stroke-width="1.2"/></g>
<g transform="translate(608.50,89.43) rotate(1.62)"><rect x="-1.25" y="-5.2" width="2.5" height="10.4" rx="1" fill="#cdcdcd"/></g>
<g transform="translate(624.30,90.36) rotate(3.49)"><ellipse cx="0" cy="-6.6" rx="4.6" ry="3" fill="#2f2f2f" stroke="#0d0d0d" stroke-width="1.2"/><ellipse cx="0" cy="6.5" rx="4.6" ry="3" fill="#2f2f2f" stroke="#0d0d0d" stroke-width="1.2"/></g>
<g transform="translate(619.03,90.05) rotate(1.70)"><rect x="-1.25" y="-5.2" width="2.5" height="10.4" rx="1" fill="#cdcdcd"/></g>
<g transform="translate(634.84,91.02) rotate(3.66)"><ellipse cx="0" cy="-6.6" rx="4.6" ry="3" fill="#2f2f2f" stroke="#0d0d0d" stroke-width="1.2"/><ellipse cx="0" cy="6.5" rx="4.6" ry="3" fill="#2f2f2f" stroke="#0d0d0d" stroke-width="1.2"/></g>
<g transform="translate(629.57,90.69) rotate(1.79)"><rect x="-1.25" y="-5.2" width="2.5" height="10.4" rx="1" fill="#cdcdcd"/></g>
<g transform="translate(645.38,91.71) rotate(3.83)"><ellipse cx="0" cy="-6.6" rx="4.6" ry="3" fill="#2f2f2f" stroke="#0d0d0d" stroke-width="1.2"/><ellipse cx="0" cy="6.5" rx="4.6" ry="3" fill="#2f2f2f" stroke="#0d0d0d" stroke-width="1.2"/></g>
<g transform="translate(640.11,91.36) rotate(1.87)"><rect x="-1.25" y="-5.2" width="2.5" height="10.4" rx="1" fill="#cdcdcd"/></g>
<g transform="translate(655.92,92.44) rotate(4.00)"><ellipse cx="0" cy="-6.6" rx="4.6" ry="3" fill="#2f2f2f" stroke="#0d0d0d" stroke-width="1.2"/><ellipse cx="0" cy="6.5" rx="4.6" ry="3" fill="#2f2f2f" stroke="#0d0d0d" stroke-width="1.2"/></g>
<g transform="translate(650.65,92.07) rotate(1.96)"><rect x="-1.25" y="-5.2" width="2.5" height="10.4" rx="1" fill="#cdcdcd"/></g>
<g transform="translate(666.45,93.19) rotate(4.17)"><ellipse cx="0" cy="-6.6" rx="4.6" ry="3" fill="#2f2f2f" stroke="#0d0d0d" stroke-width="1.2"/><ellipse cx="0" cy="6.5" rx="4.6" ry="3" fill="#2f2f2f" stroke="#0d0d0d" stroke-width="1.2"/></g>
<g transform="translate(661.18,92.81) rotate(2.04)"><rect x="-1.25" y="-5.2" width="2.5" height="10.4" rx="1" fill="#cdcdcd"/></g>
<g transform="translate(676.99,93.97) rotate(4.34)"><ellipse cx="0" cy="-6.6" rx="4.6" ry="3" fill="#2f2f2f" stroke="#0d0d0d" stroke-width="1.2"/><ellipse cx="0" cy="6.5" rx="4.6" ry="3" fill="#2f2f2f" stroke="#0d0d0d" stroke-width="1.2"/></g>
<g transform="translate(671.72,93.58) rotate(2.13)"><rect x="-1.25" y="-5.2" width="2.5" height="10.4" rx="1" fill="#cdcdcd"/></g>
<g transform="translate(687.53,94.79) rotate(4.51)"><ellipse cx="0" cy="-6.6" rx="4.6" ry="3" fill="#2f2f2f" stroke="#0d0d0d" stroke-width="1.2"/><ellipse cx="0" cy="6.5" rx="4.6" ry="3" fill="#2f2f2f" stroke="#0d0d0d" stroke-width="1.2"/></g>
<g transform="translate(682.26,94.38) rotate(2.21)"><rect x="-1.25" y="-5.2" width="2.5" height="10.4" rx="1" fill="#cdcdcd"/></g>
<g transform="translate(698.06,95.63) rotate(4.68)"><ellipse cx="0" cy="-6.6" rx="4.6" ry="3" fill="#2f2f2f" stroke="#0d0d0d" stroke-width="1.2"/><ellipse cx="0" cy="6.5" rx="4.6" ry="3" fill="#2f2f2f" stroke="#0d0d0d" stroke-width="1.2"/></g>
<g transform="translate(692.79,95.21) rotate(2.30)"><rect x="-1.25" y="-5.2" width="2.5" height="10.4" rx="1" fill="#cdcdcd"/></g>
<g transform="translate(708.60,96.51) rotate(4.84)"><ellipse cx="0" cy="-6.6" rx="4.6" ry="3" fill="#2f2f2f" stroke="#0d0d0d" stroke-width="1.2"/><ellipse cx="0" cy="6.5" rx="4.6" ry="3" fill="#2f2f2f" stroke="#0d0d0d" stroke-width="1.2"/></g>
<g transform="translate(703.33,96.07) rotate(2.38)"><rect x="-1.25" y="-5.2" width="2.5" height="10.4" rx="1" fill="#cdcdcd"/></g>
<g transform="translate(719.14,97.42) rotate(5.01)"><ellipse cx="0" cy="-6.6" rx="4.6" ry="3" fill="#2f2f2f" stroke="#0d0d0d" stroke-width="1.2"/><ellipse cx="0" cy="6.5" rx="4.6" ry="3" fill="#2f2f2f" stroke="#0d0d0d" stroke-width="1.2"/></g>
<g transform="translate(713.87,96.96) rotate(2.46)"><rect x="-1.25" y="-5.2" width="2.5" height="10.4" rx="1" fill="#cdcdcd"/></g>
<g transform="translate(729.68,98.36) rotate(5.18)"><ellipse cx="0" cy="-6.6" rx="4.6" ry="3" fill="#2f2f2f" stroke="#0d0d0d" stroke-width="1.2"/><ellipse cx="0" cy="6.5" rx="4.6" ry="3" fill="#2f2f2f" stroke="#0d0d0d" stroke-width="1.2"/></g>
<g transform="translate(724.41,97.88) rotate(2.55)"><rect x="-1.25" y="-5.2" width="2.5" height="10.4" rx="1" fill="#cdcdcd"/></g>
<g transform="translate(740.21,99.33) rotate(5.35)"><ellipse cx="0" cy="-6.6" rx="4.6" ry="3" fill="#2f2f2f" stroke="#0d0d0d" stroke-width="1.2"/><ellipse cx="0" cy="6.5" rx="4.6" ry="3" fill="#2f2f2f" stroke="#0d0d0d" stroke-width="1.2"/></g>
<g transform="translate(734.94,98.84) rotate(2.63)"><rect x="-1.25" y="-5.2" width="2.5" height="10.4" rx="1" fill="#cdcdcd"/></g>
</g>
<rect x="36.2" y="17.7" width="701.1" height="442.2" rx="2" fill="none" stroke="#9ba7b1" stroke-width="2.8"/>
<circle cx="113.8" cy="268.2" r="5" fill="#ec1c24"/>
<circle cx="123" cy="271.8" r="5" fill="#109445"/>
<path d="M128.6,127.2 A23.1,23.1 0 1 0 128.6,173.4" fill="none" stroke="#343c44" stroke-width="9" stroke-linecap="round"/>
<path d="M128.6,127.2 A23.1,23.1 0 1 0 128.6,173.4" fill="none" stroke="#b0bfca" stroke-width="5.2" stroke-linecap="round"/>
<ellipse cx="158.3" cy="127" rx="5.3" ry="4.4" fill="#b39478" stroke="#7a4a28" stroke-width="2.3"/><ellipse cx="158.0" cy="126.8" rx="1.7" ry="1.4" fill="#ece2d8"/>
<ellipse cx="125.6" cy="159" rx="5.3" ry="4.4" fill="#b39478" stroke="#7a4a28" stroke-width="2.3"/><ellipse cx="125.3" cy="158.8" rx="1.7" ry="1.4" fill="#ece2d8"/>
<ellipse cx="168.8" cy="175" rx="5.3" ry="4.4" fill="#b39478" stroke="#7a4a28" stroke-width="2.3"/><ellipse cx="168.5" cy="174.8" rx="1.7" ry="1.4" fill="#ece2d8"/>
<circle cx="144.4" cy="137.5" r="3.5" fill="#964812"/>
<circle cx="141.5" cy="167" r="3.5" fill="#964812"/>
<ellipse cx="162" cy="140" rx="1.3" ry="2.6" fill="#f2703e"/>
<ellipse cx="176" cy="140" rx="1.3" ry="2.6" fill="#f2703e"/>
<ellipse cx="130.8" cy="146.5" rx="1.3" ry="2.6" fill="#f2703e"/>
<ellipse cx="153" cy="177" rx="1.3" ry="2.6" fill="#f2703e"/>
<g transform="translate(156.3,156) rotate(17)">
<ellipse cx="0" cy="0" rx="20.9" ry="9.200000000000001" fill="#fdf1e6" stroke="#c8672a" stroke-width="2.2"/>
<ellipse cx="0" cy="0" rx="18.4" ry="6.9" fill="#f9dccb" stroke="#e48a5c" stroke-width="0.9"/>
<polyline points="-17.0,-2.9 -14.2,4.3 -11.3,-5.2 -8.5,5.8 -5.7,-6.2 -2.8,6.4 0.0,-6.5 2.8,6.4 5.7,-6.2 8.5,5.8 11.3,-5.2 14.2,4.3 17.0,-2.9" fill="none" stroke="#e2773f" stroke-width="1.3" stroke-linejoin="round"/>
<ellipse cx="12.1" cy="1" rx="3" ry="3.5" fill="#e0672a" opacity="0.55"/>
</g>
<path d="M270.9,263.4 A37.3,45.7 0 1 0 270.9,339.2" fill="none" stroke="#343c44" stroke-width="9" stroke-linecap="round"/>
<path d="M270.9,263.4 A37.3,45.7 0 1 0 270.9,339.2" fill="none" stroke="#b0bfca" stroke-width="5.2" stroke-linecap="round"/>
<circle cx="255.6" cy="250.9" r="3.6" fill="#ec1c24"/>
<circle cx="262.9" cy="253.1" r="3.6" fill="#109445"/>
<circle cx="225.1" cy="258" r="3.6" fill="#ec1c24"/>
<circle cx="231.3" cy="261.8" r="3.6" fill="#109445"/>
<circle cx="208.3" cy="288" r="3.6" fill="#ec1c24"/>
<circle cx="215.5" cy="290.4" r="3.6" fill="#109445"/>
<circle cx="215.8" cy="329.4" r="3.6" fill="#ec1c24"/>
<circle cx="222.5" cy="333.1" r="3.6" fill="#109445"/>
<circle cx="252.2" cy="339.8" r="3.6" fill="#ec1c24"/>
<circle cx="259.5" cy="342.2" r="3.6" fill="#109445"/>
<ellipse cx="252.2" cy="269.1" rx="5.3" ry="4.4" fill="#b39478" stroke="#7a4a28" stroke-width="2.3"/><ellipse cx="251.89999999999998" cy="268.90000000000003" rx="1.7" ry="1.4" fill="#ece2d8"/>
<ellipse cx="232.2" cy="307" rx="5.3" ry="4.4" fill="#b39478" stroke="#7a4a28" stroke-width="2.3"/><ellipse cx="231.89999999999998" cy="306.8" rx="1.7" ry="1.4" fill="#ece2d8"/>
<ellipse cx="252.2" cy="325.2" rx="5.3" ry="4.4" fill="#b39478" stroke="#7a4a28" stroke-width="2.3"/><ellipse cx="251.89999999999998" cy="325.0" rx="1.7" ry="1.4" fill="#ece2d8"/>
<circle cx="237" cy="274" r="3" fill="#964812"/>
<circle cx="261.3" cy="311.2" r="3" fill="#964812"/>
<ellipse cx="263.1" cy="278.2" rx="1.3" ry="2.6" fill="#f2703e"/>
<ellipse cx="248" cy="311.2" rx="1.3" ry="2.6" fill="#f2703e"/>
<ellipse cx="235.8" cy="322.8" rx="1.3" ry="2.6" fill="#f2703e"/>
<ellipse cx="268" cy="324" rx="1.3" ry="2.6" fill="#f2703e"/>
<g transform="translate(249.6,292.2) rotate(15)">
<ellipse cx="0" cy="0" rx="20.7" ry="9.200000000000001" fill="#fdf1e6" stroke="#c8672a" stroke-width="2.2"/>
<ellipse cx="0" cy="0" rx="18.2" ry="6.9" fill="#f9dccb" stroke="#e48a5c" stroke-width="0.9"/>
<polyline points="-16.8,-2.9 -14.0,4.3 -11.2,-5.2 -8.4,5.8 -5.6,-6.2 -2.8,6.4 0.0,-6.5 2.8,6.4 5.6,-6.2 8.4,5.8 11.2,-5.2 14.0,4.3 16.8,-2.9" fill="none" stroke="#e2773f" stroke-width="1.3" stroke-linejoin="round"/>
<ellipse cx="12.0" cy="1" rx="3" ry="3.5" fill="#e0672a" opacity="0.55"/>
</g>
<circle cx="409" cy="297" r="48.6" fill="url(#vesA)"/>
<circle cx="409" cy="297" r="48.6" fill="none" stroke="#343c44" stroke-width="9"/>
<circle cx="409" cy="297" r="48.6" fill="none" stroke="#b0bfca" stroke-width="5.2"/>
<circle cx="409" cy="242.6" r="3.6" fill="#ec1c24"/>
<circle cx="416.3" cy="245.8" r="3.6" fill="#109445"/>
<circle cx="359" cy="270" r="3.6" fill="#ec1c24"/>
<circle cx="366.3" cy="272.6" r="3.6" fill="#109445"/>
<circle cx="451" cy="271.6" r="3.6" fill="#ec1c24"/>
<circle cx="458.4" cy="274.7" r="3.6" fill="#109445"/>
<circle cx="359" cy="323.4" r="3.6" fill="#ec1c24"/>
<circle cx="366.3" cy="326.8" r="3.6" fill="#109445"/>
<circle cx="448.4" cy="325.3" r="3.6" fill="#ec1c24"/>
<circle cx="455.8" cy="328.7" r="3.6" fill="#109445"/>
<circle cx="401.8" cy="349.7" r="3.6" fill="#ec1c24"/>
<circle cx="409" cy="352.4" r="3.6" fill="#109445"/>
<ellipse cx="411.6" cy="263.7" rx="5.3" ry="4.4" fill="#b39478" stroke="#7a4a28" stroke-width="2.3"/><ellipse cx="411.3" cy="263.5" rx="1.7" ry="1.4" fill="#ece2d8"/>
<ellipse cx="391.3" cy="301" rx="5.3" ry="4.4" fill="#b39478" stroke="#7a4a28" stroke-width="2.3"/><ellipse cx="391.0" cy="300.8" rx="1.7" ry="1.4" fill="#ece2d8"/>
<ellipse cx="411.6" cy="320.3" rx="5.3" ry="4.4" fill="#b39478" stroke="#7a4a28" stroke-width="2.3"/><ellipse cx="411.3" cy="320.1" rx="1.7" ry="1.4" fill="#ece2d8"/>
<circle cx="396.6" cy="268.2" r="3" fill="#964812"/>
<circle cx="421" cy="306.3" r="3" fill="#964812"/>
<ellipse cx="422.9" cy="271.6" rx="1.3" ry="2.6" fill="#f2703e"/>
<ellipse cx="407.9" cy="306.3" rx="1.3" ry="2.6" fill="#f2703e"/>
<ellipse cx="395.8" cy="316.3" rx="1.3" ry="2.6" fill="#f2703e"/>
<ellipse cx="427.6" cy="317.6" rx="1.3" ry="2.6" fill="#f2703e"/>
<g transform="translate(409,286.8) rotate(15)">
<ellipse cx="0" cy="0" rx="20.4" ry="9.1" fill="#fdf1e6" stroke="#c8672a" stroke-width="2.2"/>
<ellipse cx="0" cy="0" rx="17.9" ry="6.799999999999999" fill="#f9dccb" stroke="#e48a5c" stroke-width="0.9"/>
<polyline points="-16.5,-2.9 -13.8,4.3 -11.0,-5.1 -8.2,5.7 -5.5,-6.1 -2.8,6.3 0.0,-6.4 2.8,6.3 5.5,-6.1 8.2,5.7 11.0,-5.1 13.8,4.3 16.5,-2.9" fill="none" stroke="#e2773f" stroke-width="1.3" stroke-linejoin="round"/>
<ellipse cx="11.8" cy="1" rx="3" ry="3.5" fill="#e0672a" opacity="0.55"/>
</g>
<path d="M176.5,195.7 L229,236" fill="none" stroke="#2b2b2b" stroke-width="1.8" marker-end="url(#ah)"/>
<path d="M131.1,260.8 Q168,223 208,225 Q216,225.5 222,230.5" fill="none" stroke="#2b2b2b" stroke-width="1.8"/>
<path d="M289,301.3 L335.6,301.3" fill="none" stroke="#2b2b2b" stroke-width="2.1" marker-end="url(#ah2)"/>
<path d="M484.6,299.5 L552.6,299.5" fill="none" stroke="#2b2b2b" stroke-width="2.1" marker-end="url(#ah2)"/>
<path d="M483.3,214.6 Q486,280 540,299.5" fill="none" stroke="#2b2b2b" stroke-width="1.8"/>
<path d="M632.7,240 L632.7,212.3" fill="none" stroke="#2b2b2b" stroke-width="1.9" marker-end="url(#ah2)"/>
<circle cx="481.6" cy="186.1" r="21.8" fill="url(#vesL)" stroke="#3a3a3a" stroke-width="1.9"/>
<path d="M488.60,180.20 A5,5 0 1 1 488.60,174.20 A3.1,3.1 0 0 0 488.60,180.20 Z" fill="url(#pac)" stroke="#2a1a08" stroke-width="1.9" stroke-linejoin="round"/>
<path d="M467.58,185.35 A5,5 0 1 1 466.54,191.26 A3.1,3.1 0 0 0 467.58,185.35 Z" fill="url(#pac)" stroke="#2a1a08" stroke-width="1.9" stroke-linejoin="round"/>
<path d="M488.71,199.55 A5,5 0 1 1 492.95,195.31 A3.1,3.1 0 0 0 488.71,199.55 Z" fill="url(#pac)" stroke="#2a1a08" stroke-width="1.9" stroke-linejoin="round"/>
<path d="M612.4,249.9 A23.5,23.5 0 1 0 577,285.3 A55.5,51.5 0 1 0 612.4,249.9 Z" fill="url(#vesT)" stroke="#333" stroke-width="1.9"/>
<ellipse cx="630.5" cy="299.5" rx="47.5" ry="43.5" fill="none" stroke="#333" stroke-width="2" stroke-dasharray="5 4"/>
<circle cx="631.6" cy="248.4" r="3.8" fill="#ec1c24"/>
<circle cx="679" cy="276.8" r="3.8" fill="#ec1c24"/>
<circle cx="577.1" cy="285.8" r="3.8" fill="#ec1c24"/>
<circle cx="586.3" cy="329.5" r="3.8" fill="#ec1c24"/>
<circle cx="677.1" cy="329.5" r="3.8" fill="#ec1c24"/>
<circle cx="631.6" cy="350.5" r="3.8" fill="#ec1c24"/>
<path d="M604.25,267.69 A5.3,5.3 0 1 1 605.91,261.49 A3.3,3.3 0 0 0 604.25,267.69 Z" fill="url(#pac)" stroke="#2a1a08" stroke-width="1.9" stroke-linejoin="round"/>
<path d="M645.60,283.71 A5.3,5.3 0 1 1 644.49,290.02 A3.3,3.3 0 0 0 645.60,283.71 Z" fill="url(#pac)" stroke="#2a1a08" stroke-width="1.9" stroke-linejoin="round"/>
<path d="M633.61,315.58 A5.3,5.3 0 1 1 627.19,315.58 A3.3,3.3 0 0 0 633.61,315.58 Z" fill="url(#pac)" stroke="#2a1a08" stroke-width="1.9" stroke-linejoin="round"/>
<circle cx="634.6" cy="278.5" r="2.2" fill="#9c6440"/>
<circle cx="623.1" cy="280.3" r="2.2" fill="#9c6440"/>
<circle cx="619.4" cy="284" r="2.2" fill="#9c6440"/>
<circle cx="628.6" cy="282.2" r="2.2" fill="#9c6440"/>
<circle cx="632.2" cy="285.8" r="2.2" fill="#9c6440"/>
<circle cx="637.7" cy="290.7" r="2.2" fill="#9c6440"/>
<circle cx="612.2" cy="292.5" r="2.2" fill="#9c6440"/>
<circle cx="624.3" cy="293.7" r="2.2" fill="#9c6440"/>
<circle cx="630.4" cy="296.1" r="2.2" fill="#9c6440"/>
<circle cx="637.7" cy="296.1" r="2.2" fill="#9c6440"/>
<circle cx="609.7" cy="299.2" r="2.2" fill="#9c6440"/>
<circle cx="621.3" cy="299.2" r="2.2" fill="#9c6440"/>
<circle cx="643.1" cy="302.2" r="2.2" fill="#9c6440"/>
<circle cx="614" cy="304.6" r="2.2" fill="#9c6440"/>
<circle cx="631.6" cy="304" r="2.2" fill="#9c6440"/>
<circle cx="623.7" cy="307.7" r="2.2" fill="#9c6440"/>
<circle cx="637.1" cy="311.3" r="2.2" fill="#9c6440"/>
<circle cx="614" cy="285.2" r="1.3" fill="#f2b8a8"/>
<circle cx="626.1" cy="288.2" r="1.3" fill="#f2b8a8"/>
<circle cx="618.2" cy="293.7" r="1.3" fill="#f2b8a8"/>
<circle cx="638.9" cy="281.5" r="1.3" fill="#f2b8a8"/>
<circle cx="625.5" cy="302.2" r="1.3" fill="#f2b8a8"/>
<circle cx="618.2" cy="308.9" r="1.3" fill="#f2b8a8"/>
<circle cx="631" cy="310.1" r="1.3" fill="#f2b8a8"/>
<circle cx="636.5" cy="306.5" r="1.3" fill="#f2b8a8"/>
<text x="64.69999999999999" y="196.2" font-family="Liberation Sans, sans-serif" font-weight="bold" font-size="16.6" fill="#2e3150" stroke="#2e3150" stroke-width="0.4" textLength="90.60000000000001" lengthAdjust="spacingAndGlyphs">Phagophore</text>
<text x="64.19999999999999" y="299.0" font-family="Liberation Sans, sans-serif" font-weight="bold" font-size="16.6" fill="#2e3150" stroke="#2e3150" stroke-width="0.4" textLength="109.8" lengthAdjust="spacingAndGlyphs">RFP::GFP::LC3</text>
<text x="74.8" y="318.5" font-family="Liberation Sans, sans-serif" font-weight="bold" font-size="16.6" fill="#2e3150" stroke="#2e3150" stroke-width="0.4" textLength="88.2" lengthAdjust="spacingAndGlyphs">recruitment</text>
<text x="168.0" y="378.6" font-family="Liberation Sans, sans-serif" font-weight="bold" font-size="16.6" fill="#2e3150" stroke="#2e3150" stroke-width="0.4" textLength="149.6" lengthAdjust="spacingAndGlyphs">Isolation membrane</text>
<text x="202.6" y="397.3" font-family="Liberation Sans, sans-serif" font-weight="bold" font-size="16.6" fill="#2e3150" stroke="#2e3150" stroke-width="0.4" textLength="80.4" lengthAdjust="spacingAndGlyphs">with cargo</text>
<text x="347.8" y="378.6" font-family="Liberation Sans, sans-serif" font-weight="bold" font-size="16.6" fill="#2e3150" stroke="#2e3150" stroke-width="0.4" textLength="123.60000000000001" lengthAdjust="spacingAndGlyphs">Autophagosome</text>
<text x="577.7" y="378.7" font-family="Liberation Sans, sans-serif" font-weight="bold" font-size="16.6" fill="#2e3150" stroke="#2e3150" stroke-width="0.4" textLength="109.2" lengthAdjust="spacingAndGlyphs">Autolysosome</text>
<text x="419.6" y="131.2" font-family="Liberation Sans, sans-serif" font-weight="bold" font-size="16.6" fill="#2e3150" stroke="#2e3150" stroke-width="0.4" textLength="124.7" lengthAdjust="spacingAndGlyphs">Lysosome fusion</text>
<text x="419.1" y="149.7" font-family="Liberation Sans, sans-serif" font-weight="bold" font-size="16.6" fill="#2e3150" stroke="#2e3150" stroke-width="0.4" textLength="125.9" lengthAdjust="spacingAndGlyphs">GFP degradation</text>
<text x="560.0" y="181.2" font-family="Liberation Sans, sans-serif" font-weight="bold" font-size="16.6" fill="#2e3150" stroke="#2e3150" stroke-width="0.4" textLength="143.2" lengthAdjust="spacingAndGlyphs">Vesicle breakdown</text>
<text x="571.4" y="200.3" font-family="Liberation Sans, sans-serif" font-weight="bold" font-size="16.6" fill="#2e3150" stroke="#2e3150" stroke-width="0.4" textLength="124.5" lengthAdjust="spacingAndGlyphs">and degradation</text></svg></body></html>
